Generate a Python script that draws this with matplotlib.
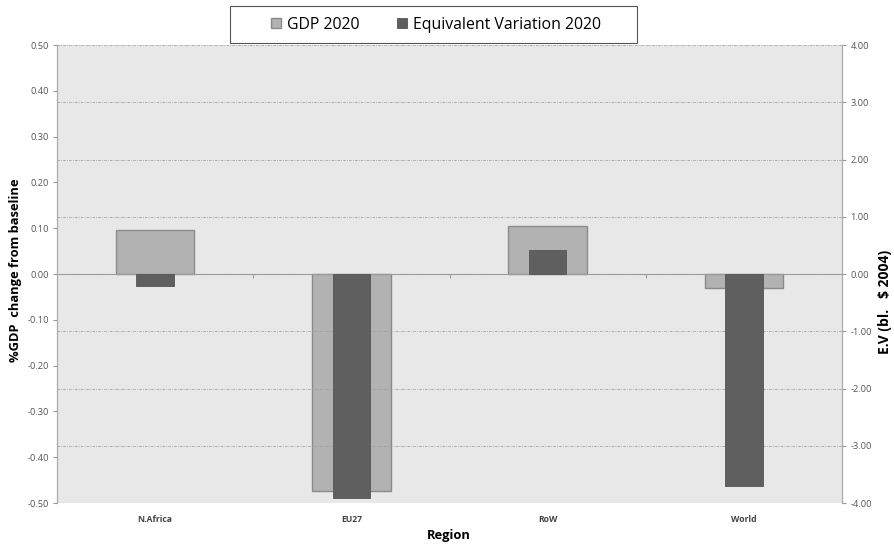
import matplotlib
matplotlib.use("Agg")
import matplotlib.pyplot as plt
from matplotlib.patches import Rectangle
import numpy as np

plt.rcParams['font.family'] = ['Open Sans', 'DejaVu Sans']

regions = ["N.Africa", "EU27", "RoW", "World"]
gdp_2020 = [0.096, -0.473, 0.105, -0.030]          # % GDP change from baseline
ev_2020 = [-0.21, -3.92, 0.42, -3.71]               # bl. $ 2004

left_ticks = [0.50, 0.40, 0.30, 0.20, 0.10, 0.00, -0.10, -0.20, -0.30, -0.40, -0.50]
right_ticks = [4.0, 3.0, 2.0, 1.0, 0.0, -1.0, -2.0, -3.0, -4.0]

gdp_color = "#b2b2b2"
ev_color = "#5f5f5f"
edge = "#8a8a8a"
tick_col = "#555555"

fig = plt.figure(figsize=(8.95, 5.47), dpi=100)
ax = fig.add_axes([0.0637, 0.0804, 0.8771, 0.8373])
ax.set_facecolor("#e8e8e8")
ax2 = ax.twinx()

x = np.arange(len(regions))
ax.bar(x, gdp_2020, width=0.40, color=gdp_color, edgecolor=edge, linewidth=1.0,
       label="GDP 2020", zorder=2)
ax2.bar(x, ev_2020, width=0.19, color=ev_color, edgecolor="#555555", linewidth=0.6,
        label="Equivalent Variation 2020", zorder=3)

ax.set_xlim(-0.5, len(regions) - 0.5)
ax.set_ylim(-0.5, 0.5)
ax2.set_ylim(-4, 4)

# left axis
ax.set_yticks(left_ticks)
ax.set_yticklabels([f"{v:.2f}" for v in left_ticks], fontsize=6.7, color=tick_col)
ax.tick_params(axis='y', direction='out', length=3, color="#999999", pad=3)

# right axis with dash-dot gridlines
ax2.set_yticks(right_ticks)
ax2.set_yticklabels([f"{v:.2f}" for v in right_ticks], fontsize=6.7, color=tick_col)
ax2.tick_params(axis='y', direction='out', length=3, color="#999999", pad=3)
ax2.grid(axis='y', color="#a0a0a0", linestyle=(0, (3, 1.5, 1, 1.5)), linewidth=0.6)
ax2.set_axisbelow(True)

# zero axis line with category separator ticks
ax.spines['bottom'].set_position(('data', 0))
ax.spines['bottom'].set_color("#999999")
ax.set_xticks(np.arange(len(regions) - 1) + 0.5)
ax.set_xticklabels([])
ax.tick_params(axis='x', direction='out', length=3, color="#999999")
ax.spines['top'].set_visible(False)
ax2.spines['top'].set_visible(False)
ax2.spines['bottom'].set_visible(False)
for a in (ax, ax2):
    a.spines['left'].set_color("#aaaaaa")
    a.spines['right'].set_color("#aaaaaa")

# category labels below the plot area
for xi, name in zip(x, regions):
    ax.text(xi, -0.035, name, transform=ax.get_xaxis_transform(), ha='center',
            va='center', fontsize=6.2, fontweight='bold', color="#444444")

ax2.set_zorder(ax.get_zorder() + 1)
ax2.patch.set_visible(False)

fig.text(16 / 895, 1 - 270 / 547, "%GDP  change from baseline", rotation=90,
         ha='center', va='center', fontsize=9.3, fontweight='bold')
fig.text(885 / 895, 1 - 302 / 547, "E.V (bl.   $ 2004)", rotation=90,
         ha='center', va='center', fontsize=10, fontweight='bold')
fig.text(449 / 895, 1 - 536 / 547, "Region", ha='center', va='center',
         fontsize=9.3, fontweight='bold')

# legend box
fig.patches.append(Rectangle((230 / 895, 1 - 43 / 547), 407 / 895, 37 / 547,
                             transform=fig.transFigure, facecolor="white",
                             edgecolor="#555555", linewidth=0.8, zorder=5))
h1, l1 = ax.get_legend_handles_labels()
h2, l2 = ax2.get_legend_handles_labels()
leg = fig.legend(h1 + h2, l1 + l2, ncol=2, loc='center',
                 bbox_to_anchor=(0.487, 0.955), frameon=False,
                 prop={'size': 11.4},
                 handlelength=0.65, handleheight=0.65, handletextpad=0.35,
                 columnspacing=2.4, borderpad=0, borderaxespad=0)
leg.set_zorder(6)

fig.savefig("out.png", dpi=100, facecolor="white")
